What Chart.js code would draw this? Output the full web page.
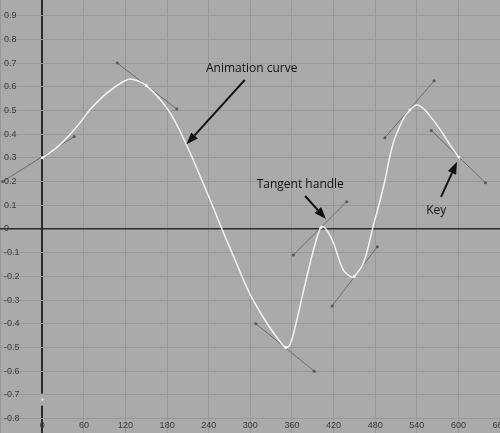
<!DOCTYPE html>
<html>
<head>
<meta charset="utf-8">
<script src="https://cdn.jsdelivr.net/npm/chart.js@4"></script>
<style>
  html, body { margin: 0; padding: 0; background: #aaaaaa; }
  canvas { display: block; }
</style>
</head>
<body>
<canvas id="grafico" width="500" height="433"></canvas>
<script>
// ticks del editor de curvas
const xTicks = [-60, 0, 60, 120, 180, 240, 300, 360, 420, 480, 540, 600, 660];
const yTicks = [0.9, 0.8, 0.7, 0.6, 0.5, 0.4, 0.3, 0.2, 0.1, 0, -0.1, -0.2, -0.3, -0.4, -0.5, -0.6, -0.7, -0.8];

// curva de animacion
const curveX = [0, 21, 33, 45, 57, 69, 93, 117, 129, 150, 182, 208, 242, 259, 280, 300, 324, 343, 351, 357, 367, 377, 391, 401, 405, 412, 420, 434, 446, 450, 463, 477, 492, 506, 521, 530, 540, 550, 559, 574, 588, 600];
const curveY = [0.30, 0.344, 0.377, 0.415, 0.458, 0.504, 0.573, 0.622, 0.632, 0.605, 0.50, 0.354, 0.122, 0.0, -0.145, -0.278, -0.398, -0.476, -0.50, -0.49, -0.384, -0.257, -0.089, 0.005, 0.01, -0.012, -0.06, -0.173, -0.204, -0.20, -0.145, 0.01, 0.178, 0.362, 0.467, 0.502, 0.523, 0.507, 0.477, 0.418, 0.355, 0.303];

// keys
const keyX = [0, 150, 351, 402, 450, 530, 601];
const keyY = [0.30, 0.605, -0.50, 0.005, -0.20, 0.502, 0.303];

// tangent handles (inicio / fin)
const handleX1 = [-57, 108, 308, 362, 418, 494, 561];
const handleY1 = [0.20, 0.70, -0.40, -0.11, -0.325, 0.385, 0.415];
const handleX2 = [46, 194, 392, 439, 483, 565, 639];
const handleY2 = [0.39, 0.506, -0.60, 0.115, -0.075, 0.625, 0.195];

// notas con flecha
const notas = [
  { text: 'Animation curve', tx: 302, ty: 0.675, fromX: 292, fromY: 0.629, toX: 208, toY: 0.357 },
  { text: 'Tangent handle', tx: 372, ty: 0.186, fromX: 379, fromY: 0.139, toX: 409, toY: 0.042 },
  { text: 'Key', tx: 568, ty: 0.076, fromX: 575, fromY: 0.135, toX: 598, toY: 0.283 }
];

const BG = '#aaaaaa';
const FUENTE_EJE = '9px "Liberation Sans", Arial, sans-serif';

const handleSets = keyX.map((_, i) => ({
  data: [{ x: handleX1[i], y: handleY1[i] }, { x: handleX2[i], y: handleY2[i] }],
  showLine: true,
  borderColor: '#6c6c6c',
  borderWidth: 1,
  pointRadius: 1.5,
  pointBackgroundColor: '#555',
  pointBorderWidth: 0,
  order: 3
}));

const fondo = {
  id: 'fondo',
  beforeDraw(chart) {
    const c = chart.ctx;
    c.save();
    c.fillStyle = BG;
    c.fillRect(0, 0, chart.width, chart.height);
    c.restore();
  }
};

const etiquetas = {
  id: 'etiquetas',
  afterDraw(chart) {
    const c = chart.ctx;
    const sx = chart.scales.x, sy = chart.scales.y;
    c.save();
    // marcador de tiempo: corte en el eje vertical
    const x0 = sx.getPixelForValue(0);
    c.fillStyle = BG;
    c.fillRect(x0 - 2, sy.getPixelForValue(-0.695), 4, 12);
    c.fillStyle = '#eeeeee';
    c.fillRect(x0 - 1, sy.getPixelForValue(-0.72) - 1, 2, 2);
    // etiquetas de los ejes dentro del grafico
    c.fillStyle = '#3a3a3a';
    c.font = FUENTE_EJE;
    c.textBaseline = 'middle';
    c.textAlign = 'center';
    xTicks.forEach(v => {
      if (v < 0) return;
      c.fillText(String(v), sx.getPixelForValue(v), 426);
    });
    c.textAlign = 'left';
    yTicks.forEach(v => {
      c.fillText(v === 0 ? '0' : v.toFixed(1), 4, sy.getPixelForValue(v));
    });
    // notas
    notas.forEach(n => {
      c.fillStyle = '#111';
      c.font = '12px "Open Sans", sans-serif';
      c.textAlign = 'center';
      c.fillText(n.text, sx.getPixelForValue(n.tx), sy.getPixelForValue(n.ty));
      const x1 = sx.getPixelForValue(n.fromX), y1 = sy.getPixelForValue(n.fromY);
      const x2 = sx.getPixelForValue(n.toX), y2 = sy.getPixelForValue(n.toY);
      const ang = Math.atan2(y2 - y1, x2 - x1);
      const len = 12, ancho = 4.5;
      const bx = x2 - len * Math.cos(ang), by = y2 - len * Math.sin(ang);
      c.strokeStyle = '#111';
      c.lineWidth = 2;
      c.beginPath();
      c.moveTo(x1, y1);
      c.lineTo(bx, by);
      c.stroke();
      c.beginPath();
      c.moveTo(x2, y2);
      c.lineTo(bx + ancho * Math.sin(ang), by - ancho * Math.cos(ang));
      c.lineTo(bx - ancho * Math.sin(ang), by + ancho * Math.cos(ang));
      c.closePath();
      c.fill();
    });
    c.restore();
  }
};

const colorGrid = ctx => ctx.tick && ctx.tick.value === 0 ? '#2b2b2b' : '#989898';

new Chart(document.getElementById('grafico'), {
  type: 'scatter',
  data: {
    datasets: [
      {
        data: keyX.map((x, i) => ({ x, y: keyY[i] })),
        showLine: false,
        pointStyle: 'rect',
        pointRadius: 1.8,
        pointBackgroundColor: '#ffffff',
        pointBorderColor: '#ffffff',
        pointBorderWidth: 0,
        order: 1
      },
      {
        data: curveX.map((x, i) => ({ x, y: curveY[i] })),
        showLine: true,
        borderColor: '#f4f4f4',
        borderWidth: 1.5,
        pointRadius: 0,
        tension: 0.35,
        order: 2
      },
      ...handleSets
    ]
  },
  options: {
    responsive: false,
    animation: false,
    layout: { padding: 0, autoPadding: false },
    plugins: { legend: { display: false }, tooltip: { enabled: false } },
    scales: {
      x: {
        type: 'linear',
        min: -61,
        max: 660,
        afterBuildTicks: axis => { axis.ticks = xTicks.map(v => ({ value: v })); },
        afterFit: axis => { axis.height = 0; },
        ticks: { display: false },
        border: { display: false },
        grid: {
          drawTicks: false,
          color: colorGrid,
          lineWidth: ctx => ctx.tick && ctx.tick.value === 0 ? 2 : 1
        }
      },
      y: {
        type: 'linear',
        min: -0.861,
        max: 0.966,
        afterBuildTicks: axis => { axis.ticks = yTicks.map(v => ({ value: v })); },
        afterFit: axis => { axis.width = 0; },
        ticks: { display: false },
        border: { display: false },
        grid: {
          drawTicks: false,
          color: colorGrid,
          lineWidth: ctx => ctx.tick && ctx.tick.value === 0 ? 1.5 : 1
        }
      }
    }
  },
  plugins: [fondo, etiquetas]
});
</script>
</body>
</html>
